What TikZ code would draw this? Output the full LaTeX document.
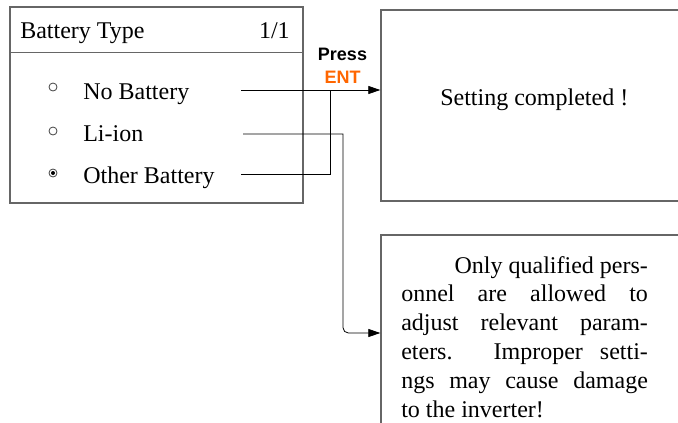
\documentclass[tikz,border=0pt]{standalone}
\usepackage{fontspec}
\setmainfont{Liberation Serif}
\newfontfamily\keyfont{Liberation Sans}
\usetikzlibrary{arrows.meta,calc}
\definecolor{entorange}{HTML}{FF6600}
\tikzset{
  frame/.style={draw=black!60,line width=1pt,inner sep=0pt},
  item/.style={anchor=base west,inner sep=0pt,font=\fontsize{18}{21.6}\selectfont},
  radio/.style={circle,draw=black!75,line width=0.6pt,minimum size=6pt,inner sep=0pt},
  link/.style={line width=0.6pt},
  tip/.style={-{Triangle[length=9pt,width=6pt]}}
}

\begin{document}
\begin{tikzpicture}[x=0.75pt,y=-0.75pt]
  \useasboundingbox (0,0) rectangle (678,422);
  \node[frame,minimum width=219.75pt,minimum height=147pt] (menu) at (156.5,105) {};
  \draw[frame] ($(menu.north west)+(0,46)$) -- ($(menu.north east)+(0,46)$);
  \node[item] (title) at (20,38) {Battery Type};
  \node[item,anchor=base east] (page) at (290,38) {1/1};
  \node[radio] (r1) at (53,87) {};
  \node[radio] (r2) at (53,131) {};
  \node[radio] (r3) at (53,173) {};
  \fill (r3) circle (1.5pt);
  \node[item] (nobat) at (83,99) {No Battery};
  \node[item] (liion) at (83,141) {Li-ion};
  \node[item] (other) at (83,183) {Other Battery};

  \node[frame,minimum width=239.25pt,minimum height=143.25pt] (done) at (540.5,105.5) {};
  \node[item] (donemsg) at (440,105) {Setting completed !};
  \node[frame,minimum width=239.25pt,minimum height=168.75pt] (warn) at (540.5,347.5) {};
  \node[item,text width=185pt,align=justify] (warnmsg) at (401,273)
    {\hspace*{40pt}Only qualified pers-\linebreak onnel are allowed to\linebreak
     adjust relevant param-\linebreak eters. Improper setti-\linebreak
     ngs may cause damage\linebreak to the inverter!};

  \node[inner sep=0pt,anchor=base,align=center,font=\keyfont\bfseries\fontsize{13.5}{17}\selectfont]
    (press) at (342.5,83) {Press\\\textcolor{entorange}{ENT}};

  \coordinate (nbEnd) at (241,90);
  \coordinate (liEnd) at (243,134);
  \coordinate (obEnd) at (241,174);
  \coordinate (join) at (330,90);
  \coordinate (drop) at (343,333);
  \draw[link,tip] (nbEnd) -- (nbEnd -| done.west);
  \draw[link] (obEnd) -| (join);
  \draw[link,tip] (liEnd) -- (liEnd -| drop) [rounded corners=4pt] -- (drop) -- (drop -| warn.west);
\end{tikzpicture}
\end{document}
